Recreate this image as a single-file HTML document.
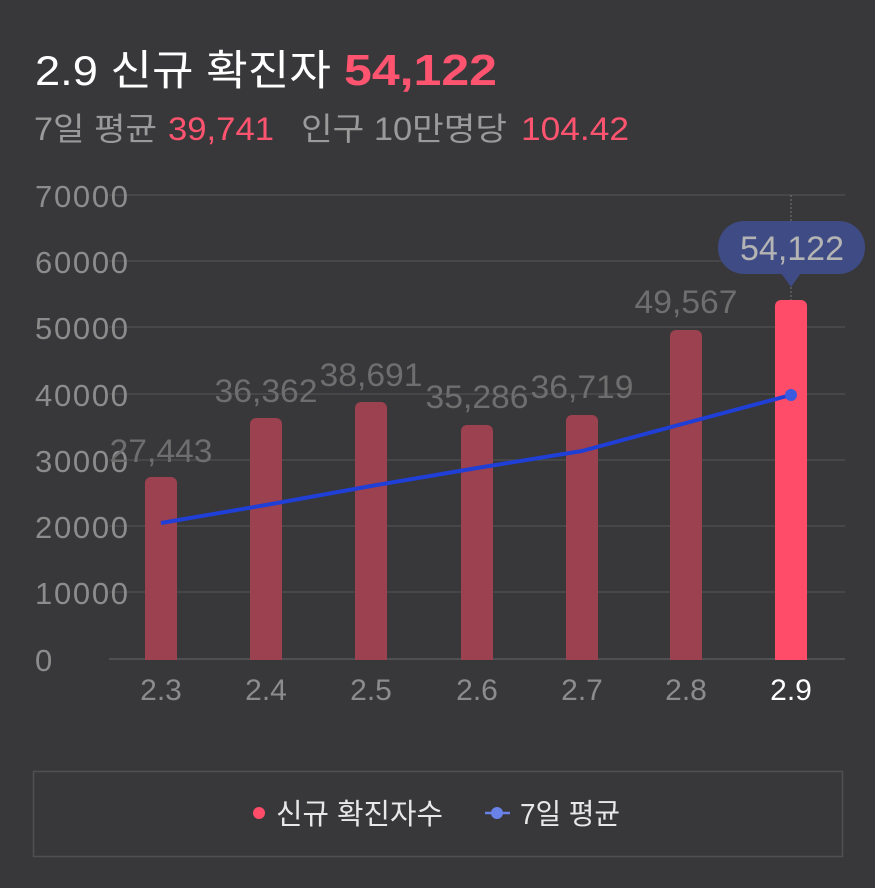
<!DOCTYPE html>
<html><head><meta charset="utf-8"><style>
html,body{margin:0;padding:0;background:#38383a;}
svg{display:block;font-family:"Liberation Sans","Noto Sans CJK KR",sans-serif;}
</style></head><body>
<svg width="875" height="888" viewBox="0 0 875 888" xmlns="http://www.w3.org/2000/svg">
<rect width="875" height="888" fill="#38383a"/>
<text x="35" y="85" font-size="42" fill="#ffffff" textLength="296" lengthAdjust="spacingAndGlyphs">2.9 신규 확진자</text>
<text x="344" y="85" font-size="44" fill="#ff5470" font-weight="bold" textLength="153" lengthAdjust="spacingAndGlyphs">54,122</text>
<g font-size="32">
<text x="34" y="140" fill="#9a9a9a" textLength="123" lengthAdjust="spacingAndGlyphs">7일 평균</text>
<text x="168" y="140" fill="#ff5470" textLength="106" lengthAdjust="spacingAndGlyphs">39,741</text>
<text x="301" y="140" fill="#9a9a9a" textLength="206" lengthAdjust="spacingAndGlyphs">인구 10만명당</text>
<text x="521" y="140" fill="#ff5470" textLength="108" lengthAdjust="spacingAndGlyphs">104.42</text>
</g>
<g stroke="#4c4c4e" stroke-width="1.5">
<line x1="109" y1="195" x2="845" y2="195"/><line x1="109" y1="261" x2="845" y2="261"/>
<line x1="109" y1="327" x2="845" y2="327"/><line x1="109" y1="394" x2="845" y2="394"/>
<line x1="109" y1="460" x2="845" y2="460"/><line x1="109" y1="526" x2="845" y2="526"/>
<line x1="109" y1="592" x2="845" y2="592"/><line x1="109" y1="659" x2="845" y2="659" stroke="#58585a"/>
</g>
<g font-size="31" fill="#8c8c8c">
<text x="35" y="207" textLength="93">70000</text><text x="35" y="273" textLength="93">60000</text>
<text x="35" y="339" textLength="93">50000</text><text x="35" y="406" textLength="93">40000</text>
<text x="35" y="472" textLength="93">30000</text><text x="35" y="538" textLength="93">20000</text>
<text x="35" y="604" textLength="93">10000</text><text x="35" y="671">0</text>
</g>
<line x1="791" y1="195" x2="791" y2="300" stroke="#777" stroke-dasharray="2,2"/>
<g fill="#9b4150">
<rect x="145" y="477" width="32" height="190" rx="6"/>
<rect x="250" y="418" width="32" height="250" rx="6"/>
<rect x="355" y="402" width="32" height="265" rx="6"/>
<rect x="461" y="425" width="32" height="242" rx="6"/>
<rect x="566" y="415" width="32" height="252" rx="6"/>
<rect x="670" y="330" width="32" height="337" rx="6"/>
</g>
<rect x="775" y="300" width="32" height="367" rx="6" fill="#ff4d69"/>
<rect x="100" y="660" width="760" height="20" fill="#38383a"/>
<g font-size="32" fill="#6e6e6e" text-anchor="middle">
<text x="161" y="462" textLength="103" lengthAdjust="spacingAndGlyphs">27,443</text>
<text x="266" y="402" textLength="103" lengthAdjust="spacingAndGlyphs">36,362</text>
<text x="371" y="386" textLength="103" lengthAdjust="spacingAndGlyphs">38,691</text>
<text x="477" y="408" textLength="103" lengthAdjust="spacingAndGlyphs">35,286</text>
<text x="582" y="398" textLength="103" lengthAdjust="spacingAndGlyphs">36,719</text>
<text x="686" y="313" textLength="103" lengthAdjust="spacingAndGlyphs">49,567</text>
</g>
<polyline points="161,523 266,505 371,486 477,468 582,451 686,423 791,395" fill="none" stroke="#1f3fd6" stroke-width="4" stroke-linejoin="round"/>
<circle cx="791" cy="395" r="6" fill="#3a5be0"/>
<rect x="718" y="221" width="147" height="53" rx="26" fill="#3f4b84"/>
<polygon points="781,273 801,273 791,287" fill="#3f4b84"/>
<text x="792" y="260" font-size="34" fill="#b4b4b4" text-anchor="middle" textLength="104" lengthAdjust="spacingAndGlyphs">54,122</text>
<g font-size="30" fill="#8c8c8c" text-anchor="middle">
<text x="161" y="700">2.3</text><text x="266" y="700">2.4</text><text x="371" y="700">2.5</text>
<text x="477" y="700">2.6</text><text x="582" y="700">2.7</text><text x="686" y="700">2.8</text>
<text x="791" y="700" fill="#ffffff">2.9</text>
</g>
<rect x="33.5" y="771.5" width="809" height="85" fill="none" stroke="#505052" stroke-width="1.5"/>
<circle cx="259" cy="813" r="6" fill="#ff4d69"/>
<text x="276" y="824" font-size="29" fill="#e8e8e8" textLength="167" lengthAdjust="spacingAndGlyphs">신규 확진자수</text>
<line x1="485" y1="813" x2="510" y2="813" stroke="#6a82e8" stroke-width="2.5"/>
<circle cx="497" cy="813" r="6" fill="#6a82e8"/>
<text x="520" y="824" font-size="29" fill="#e8e8e8" textLength="100" lengthAdjust="spacingAndGlyphs">7일 평균</text>
</svg>
</body></html>
